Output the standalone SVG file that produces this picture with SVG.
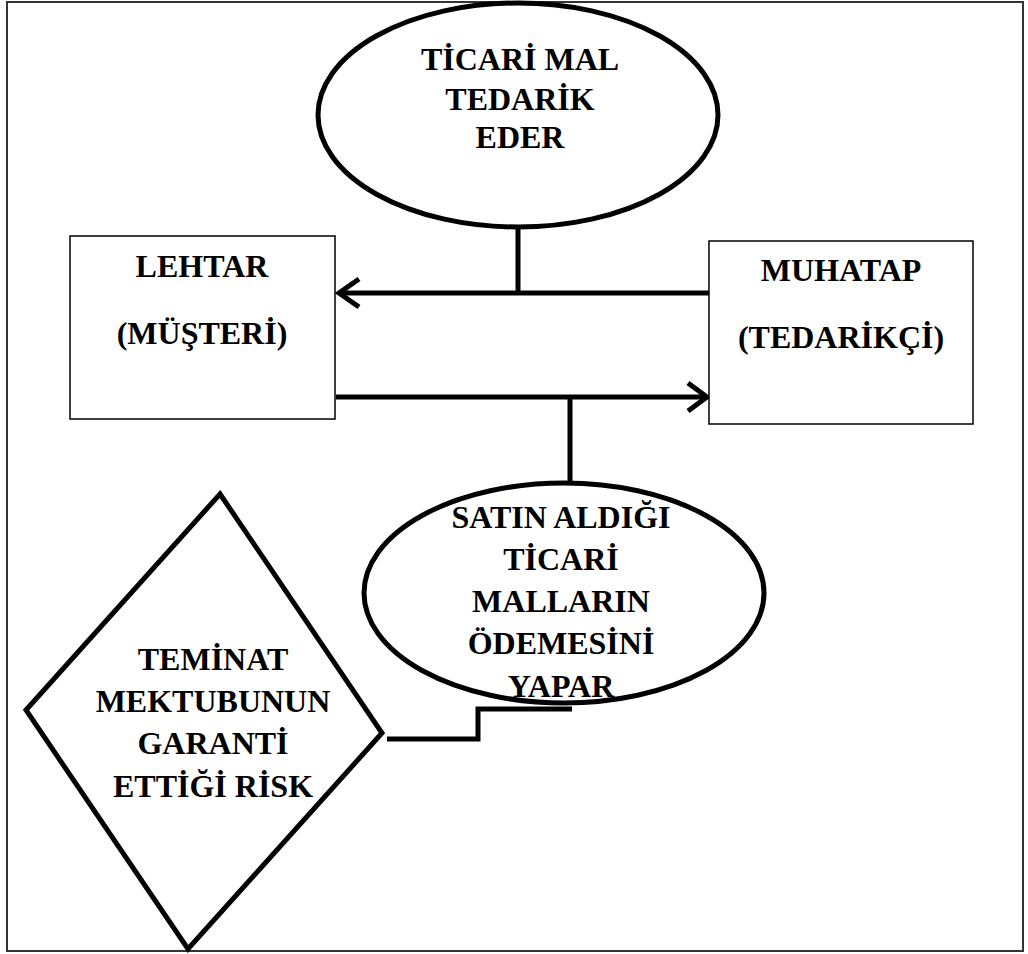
<svg xmlns="http://www.w3.org/2000/svg" width="1028" height="954" viewBox="0 0 1028 954">
  <style>
    .lbl { font-family: "Liberation Serif", "Times New Roman", serif; font-weight: bold; font-size: 32px; fill: #000; text-anchor: middle; }
    .shape { fill: #fff; stroke: #000; stroke-width: 5; }
    .box { fill: #fff; stroke: #000; stroke-width: 1.5; }
    .conn { fill: none; stroke: #000; stroke-width: 5; }
  </style>
  <rect x="0" y="0" width="1028" height="954" fill="#fff"/>
  <rect id="frame" x="7" y="2" width="1016" height="949" fill="none" stroke="#333" stroke-width="2"/>

  <g id="connectors">
    <path class="conn" d="M518 226 L518 293"/>
    <path class="conn" d="M709 293 L339 293"/>
    <path class="conn" d="M359 279 L339 293 L359 307"/>
    <path class="conn" d="M336 397 L706 397"/>
    <path class="conn" d="M688 383 L707 397 L688 411"/>
    <path class="conn" d="M570 397 L570 484"/>
    <path class="conn" d="M387 739 L478 739 L478 709 L572 709"/>
  </g>

  <g id="node-top">
    <ellipse class="shape" cx="518" cy="115" rx="200" ry="112"/>
    <text class="lbl" x="520" y="70">TİCARİ MAL</text>
    <text class="lbl" x="520" y="110">TEDARİK</text>
    <text class="lbl" x="520" y="148">EDER</text>
  </g>

  <g id="node-lehtar">
    <rect class="box" x="70" y="236" width="265" height="183"/>
    <text class="lbl" x="202" y="277">LEHTAR</text>
    <text class="lbl" x="202" y="344">(MÜŞTERİ)</text>
  </g>

  <g id="node-muhatap">
    <rect class="box" x="709" y="241" width="264" height="183"/>
    <text class="lbl" x="841" y="281">MUHATAP</text>
    <text class="lbl" x="841" y="348">(TEDARİKÇİ)</text>
  </g>

  <g id="node-odeme">
    <ellipse class="shape" cx="564" cy="593" rx="200" ry="110"/>
    <text class="lbl" x="561" y="528">SATIN ALDIĞI</text>
    <text class="lbl" x="561" y="570">TİCARİ</text>
    <text class="lbl" x="561" y="612">MALLARIN</text>
    <text class="lbl" x="561" y="654">ÖDEMESİNİ</text>
    <text class="lbl" x="561" y="697">YAPAR</text>
  </g>

  <g id="node-risk">
    <polygon class="shape" points="220,494 382,733 188,949 26,710"/>
    <text class="lbl" x="213" y="670">TEMİNAT</text>
    <text class="lbl" x="213" y="712">MEKTUBUNUN</text>
    <text class="lbl" x="213" y="754">GARANTİ</text>
    <text class="lbl" x="213" y="797">ETTİĞİ RİSK</text>
  </g>
</svg>
